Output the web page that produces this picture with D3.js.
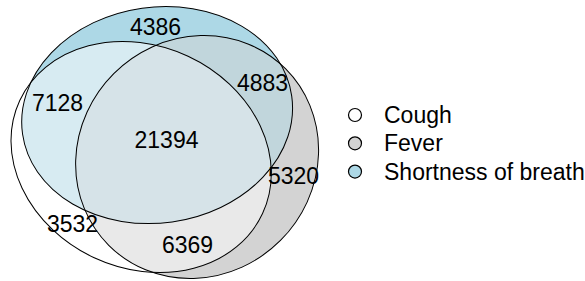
<!DOCTYPE html>
<html>
<head>
<meta charset="utf-8">
<script src="https://cdn.jsdelivr.net/npm/d3@7"></script>
<style>
body { margin: 0; background: #fff; }
text { font-family: "Liberation Sans", Arial, Helvetica, sans-serif; fill: #000; }
</style>
</head>
<body>
<div class="container"></div>
<script>
const WIDTH = 585;
const HEIGHT = 281;
const PLOT_LEFT = 11;
const PLOT_TOP = 6.5;
const PLOT_BOTTOM = 278.5;

// sets, in legend order
var setNames = ["Cough", "Fever", "Shortness of breath"];
var setFills = ["#ffffff", "#d3d3d3", "#add8e6"];

// fitted ellipse layout (diagram units, y up): centre, semi-axes, rotation
var ellipseH = [-0.6, 0.8, -0.2];
var ellipseK = [-0.35, -0.35, 0.7];
var ellipseA = [3.35, 3.125, 3.4];
var ellipseB = [2.78, 2.95, 2.7];
var ellipsePhi = [-0.436, 0.785, 0.14];

// disjoint regions (indices into setNames) and their counts
var regionSets = [[0], [1], [2], [0, 1], [0, 2], [1, 2], [0, 1, 2]];
var regionCounts = [3532, 5320, 4386, 6369, 7128, 4883, 21394];

var idx = d3.range(setNames.length);

var ellipseBox = function (i) {
    var a = ellipseA[i], b = ellipseB[i], p = ellipsePhi[i];
    var hw = Math.sqrt(a * a * Math.cos(p) ** 2 + b * b * Math.sin(p) ** 2);
    var hh = Math.sqrt(a * a * Math.sin(p) ** 2 + b * b * Math.cos(p) ** 2);
    return [ellipseH[i] - hw, ellipseH[i] + hw, ellipseK[i] - hh, ellipseK[i] + hh];
};
var boxes = idx.map(ellipseBox);
var xMin = d3.min(boxes, b => b[0]), xMax = d3.max(boxes, b => b[1]);
var yMin = d3.min(boxes, b => b[2]), yMax = d3.max(boxes, b => b[3]);
var unit = (PLOT_BOTTOM - PLOT_TOP) / (yMax - yMin);

var xScale = d3.scaleLinear()
    .domain([xMin, xMax])
    .range([PLOT_LEFT, PLOT_LEFT + (xMax - xMin) * unit]);

var yScale = d3.scaleLinear()
    .domain([yMin, yMax])
    .range([PLOT_BOTTOM, PLOT_TOP]);

var shape = function (sel) {
    sel.attr('cx', i => xScale(ellipseH[i]))
        .attr('cy', i => yScale(ellipseK[i]))
        .attr('rx', i => ellipseA[i] * unit)
        .attr('ry', i => ellipseB[i] * unit)
        .attr('transform', i => 'rotate(' + (-ellipsePhi[i] * 180 / Math.PI) + ',' +
            xScale(ellipseH[i]) + ',' + yScale(ellipseK[i]) + ')');
};

var mix = function (sets) {
    var labs = sets.map(s => d3.lab(setFills[s]));
    return d3.lab(d3.mean(labs, c => c.l), d3.mean(labs, c => c.a), d3.mean(labs, c => c.b)).formatHex();
};

var membership = function (px, py) {
    var x = xScale.invert(px), y = yScale.invert(py), m = 0;
    idx.forEach(function (i) {
        var dx = x - ellipseH[i], dy = y - ellipseK[i];
        var c = Math.cos(ellipsePhi[i]), s = Math.sin(ellipsePhi[i]);
        var u = dx * c + dy * s, v = -dx * s + dy * c;
        if ((u / ellipseA[i]) ** 2 + (v / ellipseB[i]) ** 2 <= 1) m |= 1 << i;
    });
    return m;
};

// label spot = point of a region farthest from its edges (distance transform on a pixel grid)
var GW = 340, GH = 290;
var cells = new Uint8Array(GW * GH);
for (var gy = 0; gy < GH; gy++)
    for (var gx = 0; gx < GW; gx++)
        cells[gy * GW + gx] = membership(gx + 0.5, gy + 0.5);

var regionCenter = function (mask) {
    var d = new Float32Array(GW * GH);
    var D = Math.SQRT2;
    for (var k = 0; k < d.length; k++) d[k] = cells[k] === mask ? 1e9 : 0;
    var get = (x, y) => (x < 0 || y < 0 || x >= GW || y >= GH) ? 0 : d[y * GW + x];
    for (var y = 0; y < GH; y++)
        for (var x = 0; x < GW; x++) {
            var k2 = y * GW + x;
            if (d[k2] > 0) d[k2] = Math.min(d[k2], get(x - 1, y) + 1, get(x, y - 1) + 1,
                get(x - 1, y - 1) + D, get(x + 1, y - 1) + D);
        }
    var best = 0, bx = 0, by = 0;
    for (var y = GH - 1; y >= 0; y--)
        for (var x = GW - 1; x >= 0; x--) {
            var k3 = y * GW + x;
            if (d[k3] > 0) d[k3] = Math.min(d[k3], get(x + 1, y) + 1, get(x, y + 1) + 1,
                get(x + 1, y + 1) + D, get(x - 1, y + 1) + D);
            if (d[k3] > best) { best = d[k3]; bx = x; by = y; }
        }
    return [bx + 0.5, by + 0.5];
};

var svg = d3.select('.container').append('svg')
    .attr('width', WIDTH)
    .attr('height', HEIGHT);

svg.append('defs').selectAll('clipPath').data(idx)
    .enter().append('clipPath')
    .attr('id', i => 'clip' + i)
    .append('ellipse')
    .call(shape);

// paint singles, then pairs, then the triple on top, each clipped to its sets
var fills = svg.append('g');
regionSets.forEach(function (sets) {
    var g = fills;
    sets.slice(0, -1).forEach(function (s) {
        g = g.append('g').attr('clip-path', 'url(#clip' + s + ')');
    });
    g.append('ellipse').datum(sets[sets.length - 1])
        .call(shape)
        .attr('fill', mix(sets));
});

svg.append('g').selectAll('ellipse').data(idx)
    .enter().append('ellipse')
    .call(shape)
    .attr('fill', 'none')
    .attr('stroke', '#000')
    .attr('stroke-width', 1);

var labelData = regionSets.map(function (sets, r) {
    var mask = d3.sum(sets, s => 1 << s);
    return {count: regionCounts[r], pos: regionCenter(mask)};
});

svg.append('g').selectAll('text').data(labelData)
    .enter().append('text')
    .attr('x', d => d.pos[0])
    .attr('y', d => d.pos[1])
    .attr('dy', '0.35em')
    .attr('text-anchor', 'middle')
    .style('font-size', '23px')
    .text(d => d.count);

// legend
var legend = svg.append('g')
    .attr('transform', 'translate(355,115)');

var rows = legend.selectAll('g').data(setNames)
    .enter().append('g')
    .attr('transform', (d, i) => 'translate(0,' + (i * 28.3) + ')');

rows.append('circle')
    .attr('r', 6.5)
    .attr('fill', (d, i) => setFills[i])
    .attr('stroke', '#000')
    .attr('stroke-width', 1.2);

rows.append('text')
    .attr('x', 29)
    .attr('dy', '0.35em')
    .style('font-size', '23px')
    .text(d => d);
</script>
</body>
</html>
